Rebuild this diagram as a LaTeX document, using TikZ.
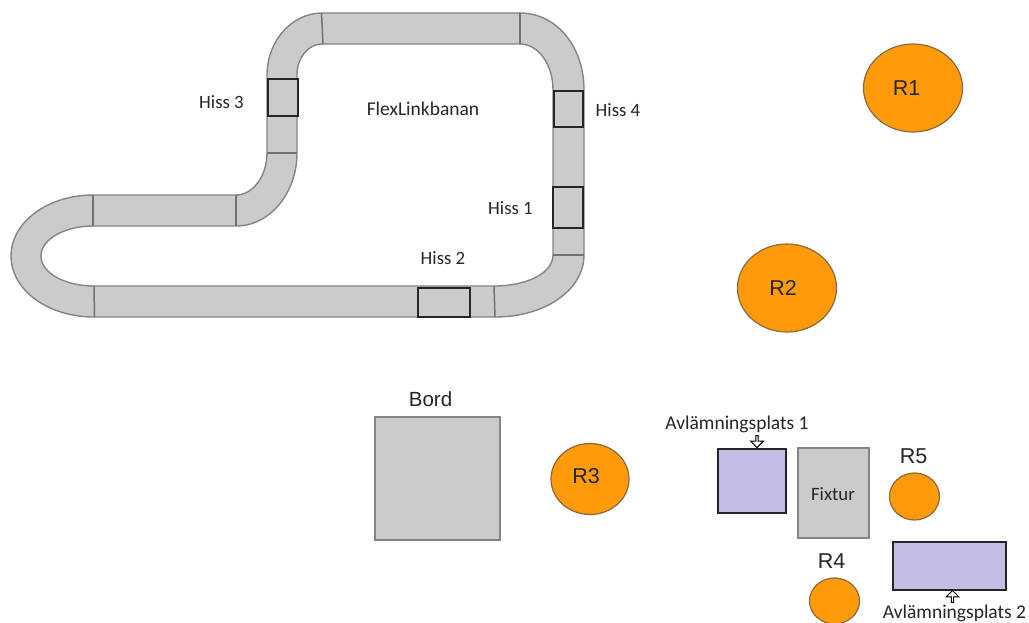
\documentclass[tikz,border=0pt]{standalone}
\usepackage{fontspec}
\setmainfont{Carlito}
\newfontfamily\arialf{Liberation Sans}
\usetikzlibrary{shapes.arrows,shapes.geometric}
\definecolor{trackgrey}{HTML}{CBCBCB}
\definecolor{trackline}{HTML}{858585}
\definecolor{robot}{HTML}{FF9A0A}
\definecolor{robotline}{HTML}{8A6A3A}
\definecolor{lilac}{HTML}{C5BDE5}
\definecolor{txt}{HTML}{262626}
\tikzset{
 x=1pt,y=-1pt,
 track/.style={fill=trackgrey,draw=trackline,line width=1.4pt,even odd rule},
 divider/.style={draw=trackline!85!black,line width=1.5pt},
 hiss/.style={draw=black!85,line width=1.2pt,fill=trackgrey},
 robotnode/.style={ellipse,draw=robotline,line width=1.2pt,fill=robot,inner sep=0pt},
 rlabel/.style={text=txt,inner sep=0pt,font=\arialf\fontsize{21.5}{22}\selectfont},
 greybox/.style={draw=trackline,line width=1.6pt,fill=trackgrey},
 lilacbox/.style={draw=black!85,line width=1.2pt,fill=lilac},
 lbl/.style={text=txt,inner sep=0pt,font=\fontsize{19.5}{20}\selectfont},
 lblhiss/.style={text=txt,inner sep=0pt,font=\fontsize{18.8}{20}\selectfont},
 lblbig/.style={text=txt,inner sep=0pt,font=\arialf\fontsize{20.5}{22}\selectfont},
 hollow/.style={single arrow,draw=black,line width=1pt,fill=white,minimum height=12pt,minimum width=13pt,single arrow head extend=2.5pt,single arrow tip angle=90,inner sep=0pt}
}
\begin{document}
\begin{tikzpicture}
\path[use as bounding box,fill=white] (0,0) rectangle (1029,622);
\begin{scope}
\clip (0,0) rectangle (1029,622);
% track
\path[track]
 (322,13) -- (520,13) .. controls (556,13) and (584,46) .. (584,90)
 -- (584,255) .. controls (584,290) and (545,317) .. (495,317)
 -- (94,317) .. controls (48,317) and (11,290) .. (11,256)
 .. controls (11,222) and (48,195) .. (93,195)
 -- (236,195) .. controls (253,195) and (267,176) .. (267,153)
 -- (267,75) .. controls (267,41) and (292,13) .. (322,13) -- cycle
 (322,44) -- (520,44) .. controls (538,44) and (553,64) .. (553,90)
 -- (553,255) .. controls (553,273) and (527,286) .. (494,286)
 -- (94,286) .. controls (65,286) and (41,273) .. (41,256)
 .. controls (41,239) and (65,226) .. (93,226)
 -- (236,226) .. controls (270,226) and (297,193) .. (297,153)
 -- (297,75) .. controls (297,58) and (308,44) .. (322,44) -- cycle;
\coordinate (d1a) at (321.5,13); \coordinate (d1b) at (323,44);
\coordinate (d2a) at (520,13); \coordinate (d2b) at (520,44);
\coordinate (d3a) at (267,153); \coordinate (d3b) at (297,153);
\coordinate (d4a) at (236,195); \coordinate (d4b) at (236,226);
\coordinate (d5a) at (93,195); \coordinate (d5b) at (93,226);
\coordinate (d6a) at (94,286); \coordinate (d6b) at (94.5,317);
\coordinate (d7a) at (494,286); \coordinate (d7b) at (495,317);
\coordinate (d8a) at (553,255); \coordinate (d8b) at (584,255);
\foreach \n in {1,...,8} \draw[divider] (d\n a) -- (d\n b);
% lifts
\node[hiss,minimum width=30pt,minimum height=37pt,inner sep=0pt] (h3) at (283,97.5) {};
\node[hiss,minimum width=29pt,minimum height=36pt,inner sep=0pt] (h4) at (568.5,109) {};
\node[hiss,minimum width=30pt,minimum height=41pt,inner sep=0pt] (h1) at (568,207.5) {};
\node[hiss,minimum width=52pt,minimum height=29pt,inner sep=0pt] (h2) at (444,302.5) {};
\node[lblhiss] (t3) at (221.5,102) {Hiss 3};
\node[lblhiss] (t4) at (618,110) {Hiss 4};
\node[lblhiss] (t1) at (510.5,208.5) {Hiss 1};
\node[lblhiss] (t2) at (443,258) {Hiss 2};
\node[lbl] (flex) at (423,108.5) {FlexLinkbanan};
% robots
\node[robotnode,minimum width=99pt,minimum height=88pt] (r1) at (913,88) {};
\node[rlabel] (l1) at (906.5,88) {R1};
\node[robotnode,minimum width=99pt,minimum height=88pt] (r2) at (787,288) {};
\node[rlabel] (l2) at (783,288) {R2};
\node[robotnode,minimum width=78pt,minimum height=71pt] (r3) at (590,479) {};
\node[rlabel] (l3) at (586,476) {R3};
\node[robotnode,minimum width=50pt,minimum height=47pt] (r5) at (914.5,496.5) {};
\node[robotnode,minimum width=50pt,minimum height=46pt] (r4) at (834.5,601) {};
\node[rlabel] (t5) at (913.5,456) {R5};
\node[rlabel] (t44) at (831.5,561.5) {R4};
% furniture
\node[greybox,minimum width=125pt,minimum height=123pt,inner sep=0pt] (bord) at (437.5,478.5) {};
\node[lblbig] (tb) at (430.5,399) {Bord};
\node[greybox,minimum width=71pt,minimum height=90pt,inner sep=0pt] (fix) at (833.5,493) {};
\node[lblhiss] (tfix) at (833,494) {Fixtur};
\node[lilacbox,minimum width=68pt,minimum height=64pt,inner sep=0pt] (a1) at (752,481) {};
\node[lilacbox,minimum width=113pt,minimum height=48pt,inner sep=0pt] (a2) at (949.5,566) {};
\node[lbl] (ta1) at (737,424) {Avlämningsplats 1};
\node[lbl] (ta2) at (954.5,613.5) {Avlämningsplats 2};
\node[hollow,rotate=-90] (ar1) at (757,441) {};
\node[hollow,rotate=90] (ar2) at (952.5,597) {};
\end{scope}
\end{tikzpicture}
\end{document}
